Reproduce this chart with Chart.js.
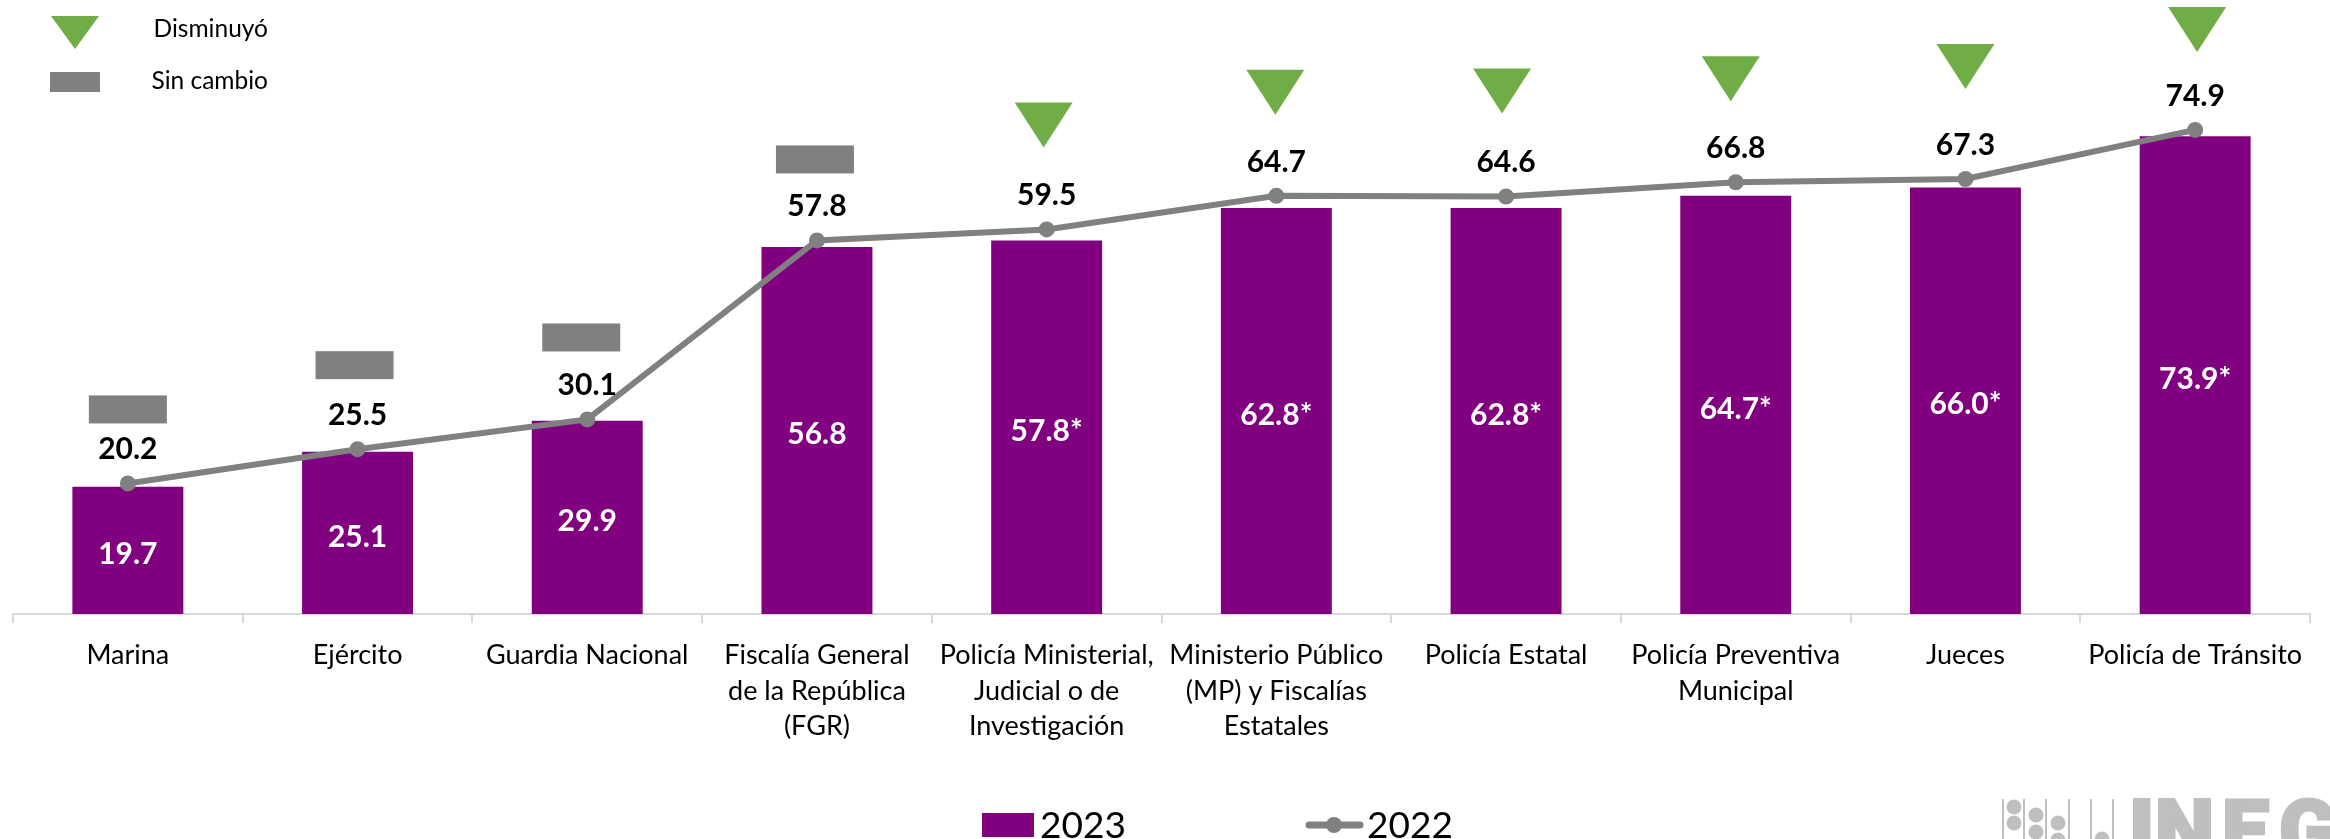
<!DOCTYPE html>
<html lang="es">
<head>
<meta charset="utf-8">
<title>Percepción de confianza</title>
<style>html,body{margin:0;padding:0;background:#fff}canvas{display:block}</style>
<script src="https://cdn.jsdelivr.net/npm/chart.js@4"></script>
</head>
<body>
<canvas id="c" width="2330" height="839"></canvas>
<script>
const categories = [
  "Marina", "Ejército", "Guardia Nacional",
  ["Fiscalía General", "de la República", "(FGR)"],
  ["Policía Ministerial,", "Judicial o de", "Investigación"],
  ["Ministerio Público", "(MP) y Fiscalías", "Estatales"],
  "Policía Estatal",
  ["Policía Preventiva", "Municipal"],
  "Jueces", "Policía de Tránsito"
];
const values2023 = [19.7, 25.1, 29.9, 56.8, 57.8, 62.8, 62.8, 64.7, 66.0, 73.9];
const values2022 = [20.2, 25.5, 30.1, 57.8, 59.5, 64.7, 64.6, 66.8, 67.3, 74.9];
const significant2023 = [false, false, false, false, true, true, true, true, true, true];
const changeStatus = ["Sin cambio", "Sin cambio", "Sin cambio", "Sin cambio", "Disminuyó", "Disminuyó", "Disminuyó", "Disminuyó", "Disminuyó", "Disminuyó"];

const PURPLE = "#800080", GRAY = "#808080", GREEN = "#70AD47", LOGO = "#BFBFBF";
const FONT = "Lato";

const drawTriangle = (ctx, cx, top, w = 29, h = 45) => {
  ctx.fillStyle = GREEN;
  ctx.beginPath();
  ctx.moveTo(cx - w, top);
  ctx.lineTo(cx + w, top);
  ctx.lineTo(cx, top + h);
  ctx.closePath();
  ctx.fill();
};

const overlay = {
  id: "overlay",
  afterDatasetsDraw(chart) {
    const { ctx } = chart;
    const bars = chart.getDatasetMeta(0).data;
    const pts = chart.getDatasetMeta(1).data;
    const markerDx = [0, -3, -6, -2, -3, -1, -4, -5, 0, 2];
    const markerDy = [-74, -84, -82, -81, -127, -126, -128, -126, -135, -123];
    ctx.save();
    ctx.textAlign = "center";
    ctx.textBaseline = "middle";
    ctx.font = `bold 30px ${FONT}`;
    pts.forEach((p, i) => {
      ctx.fillStyle = "#000";
      ctx.fillText(values2022[i].toFixed(1), p.x, p.y - 34);
      const cx = p.x + markerDx[i], y = p.y + markerDy[i];
      if (changeStatus[i] === "Disminuyó") {
        drawTriangle(ctx, cx, y);
      } else {
        ctx.fillStyle = GRAY;
        ctx.fillRect(cx - 39, y - 14, 78, 28);
      }
    });
    ctx.fillStyle = "#fff";
    bars.forEach((b, i) => {
      const t = values2023[i].toFixed(1) + (significant2023[i] ? "*" : "");
      ctx.fillText(t, b.x, (b.y + b.base) / 2 + 4);
    });

    // status key, top left
    drawTriangle(ctx, 75, 16, 24, 33);
    ctx.fillStyle = GRAY;
    ctx.fillRect(50, 72, 50, 20);
    ctx.fillStyle = "#000";
    ctx.font = `24.5px ${FONT}`;
    ctx.textAlign = "right";
    ctx.fillText("Disminuyó", 268, 29);
    ctx.fillText("Sin cambio", 268, 81);

    // series legend, bottom
    ctx.fillStyle = PURPLE;
    ctx.fillRect(982, 813, 52, 24);
    ctx.strokeStyle = GRAY;
    ctx.lineWidth = 7;
    ctx.lineCap = "round";
    ctx.beginPath();
    ctx.moveTo(1309, 825);
    ctx.lineTo(1360, 825);
    ctx.stroke();
    ctx.fillStyle = GRAY;
    ctx.beginPath();
    ctx.arc(1334, 825, 8, 0, Math.PI * 2);
    ctx.fill();
    ctx.fillStyle = "#000";
    ctx.font = `37px ${FONT}`;
    ctx.textAlign = "left";
    ctx.fillText("2023", 1040, 826);
    ctx.fillText("2022", 1367, 826);

    // logo, cut by the bottom and right edges of the page
    ctx.fillStyle = LOGO;
    [2003, 2024, 2046, 2069, 2091, 2113].forEach(x => ctx.fillRect(x - 1, 799, 2, 40));
    [[2014, 807], [2014, 823], [2036, 815], [2036, 832], [2058, 823], [2058, 840], [2102, 839]].forEach(([x, y]) => {
      ctx.beginPath();
      ctx.arc(x, y, 7.5, 0, Math.PI * 2);
      ctx.fill();
    });
    ctx.textBaseline = "alphabetic";
    ctx.font = "900 84px Roboto";
    ctx.strokeStyle = LOGO;
    ctx.lineWidth = 3;
    ctx.lineJoin = "miter";
    ctx.lineCap = "butt";
    [["I", 2129], ["N", 2155], ["E", 2222], ["G", 2279]].forEach(([ch, x]) => {
      ctx.fillText(ch, x, 859);
      ctx.strokeText(ch, x, 859);
    });
    ctx.restore();
  }
};

new Chart(document.getElementById("c"), {
  data: {
    labels: categories,
    datasets: [
      { type: "bar", label: "2023", data: values2023, backgroundColor: PURPLE, barPercentage: 0.483, categoryPercentage: 1, order: 2 },
      { type: "line", label: "2022", data: values2022, borderColor: GRAY, backgroundColor: GRAY, borderWidth: 6, pointRadius: 8, pointBackgroundColor: GRAY, pointBorderWidth: 0, tension: 0, order: 1 }
    ]
  },
  options: {
    responsive: false,
    animation: false,
    layout: { autoPadding: false, padding: { left: 13, right: 20, top: 0, bottom: 0 } },
    plugins: { legend: { display: false }, tooltip: { enabled: false } },
    scales: {
      y: { display: false, min: 0, max: 95 },
      x: {
        offset: true,
        afterFit(s) { s.height = 225; },
        border: { display: true, color: "#D9D9D9", width: 2 },
        grid: { display: true, drawOnChartArea: false, drawTicks: true, tickLength: 9, color: "#D9D9D9", lineWidth: 2, offset: true },
        ticks: { autoSkip: false, maxRotation: 0, minRotation: 0, padding: 15, color: "#000", font: { family: FONT, size: 27, lineHeight: 1.31 } }
      }
    }
  },
  plugins: [overlay]
});
</script>
</body>
</html>
